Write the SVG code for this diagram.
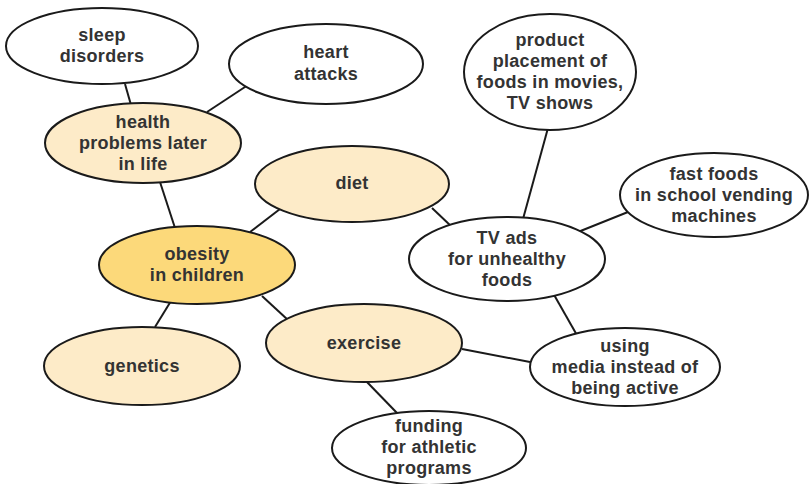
<svg xmlns="http://www.w3.org/2000/svg" width="812" height="484" viewBox="0 0 812 484">
<style>
.n{stroke:#1a1a1a;stroke-width:2}
.w{fill:#ffffff}
.p{fill:#fdebc8}
.c{fill:#fcd97a}
text{font-family:"Liberation Sans",Arial,sans-serif;font-weight:bold;font-size:18px;letter-spacing:0.3px;fill:#333333;text-anchor:middle}
.e line{stroke:#1a1a1a;stroke-width:2}
</style>
<rect width="812" height="484" fill="#ffffff"/>
<g id="connectors" class="e">
<line x1="125" y1="84" x2="131" y2="105"/>
<line x1="248" y1="85" x2="207" y2="112"/>
<line x1="160" y1="182" x2="175" y2="228"/>
<line x1="250" y1="232" x2="280" y2="209"/>
<line x1="432" y1="208" x2="452" y2="227"/>
<line x1="548" y1="128" x2="523" y2="219"/>
<line x1="628" y1="212" x2="578" y2="232"/>
<line x1="553" y1="293" x2="578" y2="337"/>
<line x1="262" y1="296" x2="288" y2="320"/>
<line x1="171" y1="301" x2="155" y2="327"/>
<line x1="462" y1="349" x2="530" y2="362"/>
<line x1="366" y1="381" x2="397" y2="413"/>
</g>
<g id="sleep">
<ellipse class="n w" cx="102" cy="46" rx="96" ry="38"/>
<text x="102" y="41">sleep</text>
<text x="102" y="62">disorders</text>
</g>
<g id="heart">
<ellipse class="n w" cx="326" cy="64" rx="97" ry="40"/>
<text x="326" y="58">heart</text>
<text x="326" y="80">attacks</text>
</g>
<g id="health">
<ellipse class="n p" cx="143" cy="143" rx="98" ry="40"/>
<text x="143" y="128">health</text>
<text x="143" y="149">problems later</text>
<text x="143" y="170">in life</text>
</g>
<g id="diet">
<ellipse class="n p" cx="352" cy="184" rx="97" ry="38"/>
<text x="352" y="189">diet</text>
</g>
<g id="product">
<ellipse class="n w" cx="550" cy="72" rx="86" ry="58"/>
<text x="550" y="46">product</text>
<text x="550" y="67">placement of</text>
<text x="550" y="88">foods in movies,</text>
<text x="550" y="109">TV shows</text>
</g>
<g id="fastfoods">
<ellipse class="n w" cx="714" cy="195" rx="94" ry="42"/>
<text x="714" y="180">fast foods</text>
<text x="714" y="201">in school vending</text>
<text x="714" y="222">machines</text>
</g>
<g id="tvads">
<ellipse class="n w" cx="507" cy="259" rx="98" ry="42"/>
<text x="507" y="244">TV ads</text>
<text x="507" y="265">for unhealthy</text>
<text x="507" y="286">foods</text>
</g>
<g id="obesity">
<ellipse class="n c" cx="197" cy="265" rx="98" ry="39"/>
<text x="197" y="260">obesity</text>
<text x="197" y="281">in children</text>
</g>
<g id="genetics">
<ellipse class="n p" cx="142" cy="366" rx="98" ry="39"/>
<text x="142" y="372">genetics</text>
</g>
<g id="exercise">
<ellipse class="n p" cx="364" cy="343" rx="98" ry="39"/>
<text x="364" y="349">exercise</text>
</g>
<g id="media">
<ellipse class="n w" cx="625" cy="367" rx="95" ry="39"/>
<text x="625" y="352">using</text>
<text x="625" y="373">media instead of</text>
<text x="625" y="394">being active</text>
</g>
<g id="funding">
<ellipse class="n w" cx="429" cy="448" rx="97" ry="37"/>
<text x="429" y="432">funding</text>
<text x="429" y="453">for athletic</text>
<text x="429" y="474">programs</text>
</g>
</svg>
